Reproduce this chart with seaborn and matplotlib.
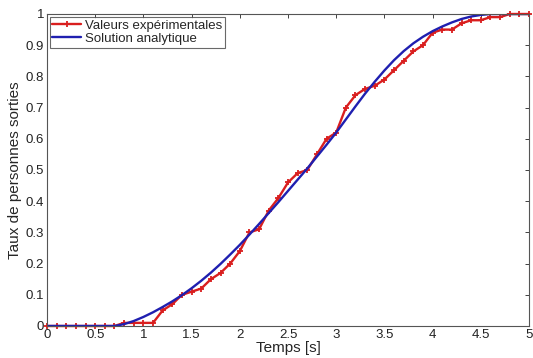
import numpy as np
import pandas as pd
import matplotlib
matplotlib.use('Agg')
import matplotlib.pyplot as plt
import seaborn as sns

sns.set_style('white')
plt.rcParams['font.family'] = ['Liberation Sans', 'DejaVu Sans']

# valeurs expérimentales (pas de 0.1 s)
t_exp = [0.0, 0.1, 0.2, 0.3, 0.4, 0.5, 0.6, 0.7, 0.8, 0.9, 1.0,
         1.1, 1.2, 1.3, 1.4, 1.5, 1.6, 1.7, 1.8, 1.9, 2.0,
         2.1, 2.2, 2.3, 2.4, 2.5, 2.6, 2.7, 2.8, 2.9, 3.0,
         3.1, 3.2, 3.3, 3.4, 3.5, 3.6, 3.7, 3.8, 3.9, 4.0,
         4.1, 4.2, 4.3, 4.4, 4.5, 4.6, 4.7, 4.8, 4.9, 5.0]
y_exp = [0, 0, 0, 0, 0, 0, 0, 0, 0.01, 0.01, 0.01,
         0.01, 0.05, 0.07, 0.10, 0.11, 0.12, 0.15, 0.17, 0.20, 0.24,
         0.30, 0.31, 0.37, 0.41, 0.46, 0.49, 0.50, 0.55, 0.60, 0.62,
         0.70, 0.74, 0.76, 0.77, 0.79, 0.82, 0.85, 0.88, 0.90, 0.94,
         0.95, 0.95, 0.97, 0.98, 0.98, 0.99, 0.99, 1.0, 1.0, 1.0]

# solution analytique
t_ana = [0.0, 0.7, 0.8, 0.9, 1.0, 1.1, 1.2, 1.3, 1.4, 1.5, 1.6, 1.7, 1.8, 1.9, 2.0,
         2.1, 2.2, 2.3, 2.4, 2.5, 2.6, 2.7, 2.8, 2.9, 3.0,
         3.1, 3.2, 3.3, 3.4, 3.5, 3.6, 3.7, 3.8, 3.9, 4.0,
         4.1, 4.2, 4.3, 4.4, 4.5, 4.6, 5.0]
y_ana = [0.0, 0.0, 0.006, 0.016, 0.029, 0.044, 0.061, 0.079, 0.099, 0.121, 0.145, 0.171, 0.199, 0.229, 0.26,
         0.293, 0.327, 0.362, 0.397, 0.433, 0.469, 0.505, 0.543, 0.581, 0.62,
         0.662, 0.704, 0.745, 0.783, 0.819, 0.852, 0.881, 0.906, 0.927, 0.945,
         0.96, 0.973, 0.984, 0.992, 0.997, 1.0, 1.0]

exp = pd.DataFrame({'t': t_exp, 'y': y_exp})
ana = pd.DataFrame({'t': t_ana, 'y': y_ana})

fig = plt.figure(figsize=(5.33, 3.58), dpi=100)
ax = fig.add_axes([47 / 533, 32 / 358, 482 / 533, 312 / 358])

sns.lineplot(data=exp, x='t', y='y', ax=ax, color='#d91e1e', lw=1.7,
             linestyle='-', dashes=False, marker='+', markersize=4.5,
             markeredgewidth=1.3, markeredgecolor='#d91e1e', clip_on=False,
             label='Valeurs expérimentales')
sns.lineplot(data=ana, x='t', y='y', ax=ax, color='#1f1fb0', lw=1.7,
             linestyle='-', dashes=False, label='Solution analytique')

ax.set_xlim(0, 5)
ax.set_ylim(0, 1)
ax.set_xticks(np.arange(0, 5.01, 0.5))
ax.set_xticklabels(['0', '0.5', '1', '1.5', '2', '2.5', '3', '3.5', '4', '4.5', '5'])
ax.set_yticks(np.arange(0, 1.01, 0.1))
ax.set_yticklabels(['0', '0.1', '0.2', '0.3', '0.4', '0.5', '0.6', '0.7', '0.8', '0.9', '1'])
ax.tick_params(direction='in', top=True, right=True, length=3, labelsize=9.5,
               width=0.6, pad=2, colors='#222222')
for s in ax.spines.values():
    s.set_color('#555555')
    s.set_linewidth(0.8)

ax.set_xlabel('Temps [s]', fontsize=11, labelpad=0)
ax.set_ylabel('Taux de personnes sorties', fontsize=11, labelpad=3)

leg = ax.legend(loc='upper left', fontsize=9.5, frameon=True, fancybox=False,
                borderpad=0.2, handlelength=2.2, handletextpad=0.3,
                labelspacing=0.1, borderaxespad=0.2)
leg.get_frame().set_edgecolor('#444444')
leg.get_frame().set_linewidth(0.8)

fig.savefig('out.png', dpi=100)
